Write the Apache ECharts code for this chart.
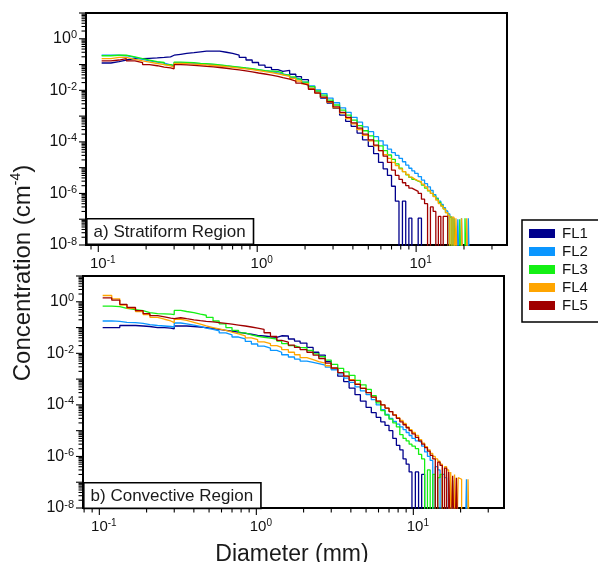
<!DOCTYPE html>
<html><head><meta charset="utf-8">
<script src="https://cdn.jsdelivr.net/npm/echarts@6/dist/echarts.min.js"></script>
<style>html,body{margin:0;padding:0;background:#fff}#chart{width:598px;height:562px}</style>
</head><body><div id="chart"></div>
<script>
// Bin diameters (mm), shared by both panels
const diameters = [0.105, 0.12, 0.135, 0.15, 0.17, 0.19, 0.21, 0.235, 0.26, 0.285,
 0.30, 0.33, 0.36, 0.40, 0.44, 0.48, 0.53, 0.58, 0.64, 0.70,
 0.77, 0.85, 0.93, 1.02, 1.12, 1.23, 1.35, 1.45, 1.6, 1.75,
 1.9, 2.1, 2.3, 2.5, 2.75, 3.0, 3.3, 3.6, 3.9, 4.25,
 4.6, 5.0, 5.4, 5.8, 6.2, 6.6, 7.0, 7.4, 7.8, 8.2,
 8.6, 9.0, 9.4, 9.8, 10.3, 10.8, 11.3, 11.8, 12.3, 12.8,
 13.3, 13.8, 14.3, 14.8, 15.3, 15.8, 16.3, 16.8, 17.3, 17.8,
 18.3, 18.8, 19.3, 19.8, 20.3, 20.8, 21.3, 21.8, 22.3, 22.8];

// a) Stratiform region concentrations (cm^-4); 1e-10 = empty bin
const stratFL1 = [0.115, 0.13, 0.15, 0.17, 0.17, 0.175, 0.18, 0.19, 0.2, 0.23,
 0.25, 0.27, 0.29, 0.31, 0.33, 0.33, 0.33, 0.3, 0.27, 0.23,
 0.19, 0.15, 0.12, 0.095, 0.078, 0.064, 0.054, 0.06, 0.042, 0.034,
 0.026, 0.014, 0.0085, 0.005, 0.0032, 0.002, 0.0011, 6.3e-4, 4e-4, 2.2e-4,
 1.2e-4, 6.7e-5, 3.5e-5, 1.6e-5, 9e-6, 5e-6, 1.9e-6, 5e-7, 1e-10, 5e-7,
 1e-10, 1.1e-7, 1e-10, 1e-10, 1.1e-7, 1e-10];
const stratFL2 = [0.23, 0.23, 0.22, 0.19, 0.16, 0.14, 0.125, 0.113, 0.097, 0.088,
 0.118, 0.115, 0.112, 0.108, 0.104, 0.1, 0.094, 0.088, 0.083, 0.078,
 0.072, 0.067, 0.062, 0.057, 0.052, 0.048, 0.043, 0.038, 0.031, 0.026,
 0.021, 0.015, 0.0105, 0.0075, 0.005, 0.0033, 0.0021, 0.0014, 9e-4, 5.8e-4,
 3.8e-4, 2.5e-4, 1.6e-4, 1.1e-4, 7.5e-5, 5.2e-5, 3.8e-5, 3e-5, 2.3e-5, 1.7e-5,
 1.25e-5, 9.5e-6, 7.5e-6, 6e-6, 4.5e-6, 3.3e-6, 2.4e-6, 1.8e-6, 1.3e-6, 9e-7,
 6.5e-7, 5e-7, 3.8e-7, 2.8e-7, 2.1e-7, 1.6e-7, 1.2e-7, 1e-10, 1.1e-7, 1e-10,
 1e-7, 1e-10, 1.1e-7, 1e-10, 1e-10, 1e-10, 1.1e-7, 1e-10];
const stratFL3 = [0.22, 0.23, 0.23, 0.2, 0.17, 0.15, 0.13, 0.12, 0.1, 0.092,
 0.125, 0.122, 0.118, 0.112, 0.108, 0.103, 0.097, 0.09, 0.085, 0.08,
 0.074, 0.069, 0.063, 0.058, 0.056, 0.054, 0.048, 0.04, 0.033, 0.027,
 0.021, 0.014, 0.0095, 0.0065, 0.0042, 0.0027, 0.0017, 0.0011, 7e-4, 4.3e-4,
 2.7e-4, 1.7e-4, 1.1e-4, 7e-5, 4.6e-5, 3.1e-5, 2.1e-5, 1.4e-5, 9.5e-6, 7e-6,
 5.3e-6, 4.2e-6, 3.5e-6, 3e-6, 2.7e-6, 2.1e-6, 1.6e-6, 1.25e-6, 1e-6, 7.8e-7,
 6e-7, 4.5e-7, 3.3e-7, 2.5e-7, 1.8e-7, 1e-10, 1.2e-7, 1e-10, 1.1e-7, 1e-10,
 1e-10, 1e-7, 1e-10, 1e-10, 1.1e-7, 1e-10];
const stratFL4 = [0.17, 0.19, 0.19, 0.16, 0.14, 0.125, 0.11, 0.1, 0.088, 0.08,
 0.11, 0.108, 0.104, 0.1, 0.096, 0.092, 0.088, 0.083, 0.078, 0.073,
 0.068, 0.063, 0.058, 0.053, 0.049, 0.044, 0.04, 0.035, 0.029, 0.023,
 0.018, 0.012, 0.008, 0.0053, 0.0034, 0.0021, 0.0013, 8e-4, 5e-4, 3e-4,
 1.8e-4, 1.1e-4, 7e-5, 4.6e-5, 3.2e-5, 2.3e-5, 1.6e-5, 1.2e-5, 9e-6, 7e-6,
 5.5e-6, 4.3e-6, 3.6e-6, 3.1e-6, 2.9e-6, 2.3e-6, 1.8e-6, 1.3e-6, 1e-6, 7.5e-7,
 5.5e-7, 4e-7, 3.2e-7, 2.5e-7, 1.8e-7, 1.4e-7, 1e-10, 1.2e-7, 1e-10, 1.1e-7,
 1e-10, 1e-10, 1.1e-7, 1e-10, 1e-10, 1.1e-7, 1e-10];
const stratFL5 = [0.14, 0.15, 0.17, 0.14, 0.12, 0.1, 0.09, 0.08, 0.074, 0.068,
 0.1, 0.097, 0.093, 0.089, 0.085, 0.081, 0.077, 0.072, 0.067, 0.062,
 0.057, 0.052, 0.047, 0.043, 0.039, 0.035, 0.031, 0.027, 0.023, 0.019,
 0.016, 0.011, 0.0078, 0.0055, 0.0036, 0.0023, 0.0014, 9e-4, 5.5e-4, 3.4e-4,
 2e-4, 1.2e-4, 7.5e-5, 4.6e-5, 2.8e-5, 1.6e-5, 8e-6, 5e-6, 3.5e-6, 2.6e-6,
 2e-6, 1.6e-6, 1.4e-6, 1.2e-6, 1e-6, 6e-7, 4e-7, 1e-10, 3e-7, 2e-7,
 1e-10, 1.3e-7, 1e-10, 1.3e-7, 1.3e-7, 1e-10];

// b) Convective region concentrations (cm^-4)
const convFL1 = [0.1, 0.1, 0.12, 0.12, 0.115, 0.11, 0.1, 0.1, 0.095, 0.09,
 0.115, 0.115, 0.11, 0.105, 0.1, 0.092, 0.085, 0.078, 0.072, 0.066,
 0.06, 0.055, 0.05, 0.047, 0.044, 0.042, 0.048, 0.047, 0.036, 0.03,
 0.025, 0.017, 0.011, 0.0085, 0.0048, 0.0025, 0.0013, 8e-4, 4.5e-4, 2.5e-4,
 1.4e-4, 8e-5, 5e-5, 3.3e-5, 2.2e-5, 1.6e-5, 1e-5, 5e-6, 2.7e-6, 1.8e-6,
 8e-7, 5e-7, 2.5e-7, 1e-10, 2.5e-7, 1e-10, 2e-7, 1e-10];
const convFL2 = [0.18, 0.175, 0.16, 0.155, 0.145, 0.13, 0.12, 0.115, 0.11, 0.105,
 0.15, 0.14, 0.125, 0.11, 0.095, 0.085, 0.075, 0.062, 0.052, 0.043,
 0.036, 0.029, 0.023, 0.019, 0.016, 0.013, 0.011, 0.0088, 0.0072, 0.006,
 0.005, 0.0045, 0.004, 0.0035, 0.0029, 0.0023, 0.0016, 0.0011, 7.5e-4, 5e-4,
 3.5e-4, 2.5e-4, 1.6e-4, 1e-4, 6.5e-5, 4.3e-5, 3e-5, 2.3e-5, 1.8e-5, 1.4e-5,
 1.1e-5, 8.5e-6, 6.5e-6, 5e-6, 4e-6, 3.5e-6, 2.5e-6, 1.5e-6, 1e-6, 7e-7,
 1e-10, 4e-7, 3e-7, 1e-10, 2e-7, 1.5e-7, 1e-10, 1.2e-7, 1e-10, 1.2e-7,
 1e-10, 1e-10, 1e-10, 1e-10, 1e-10, 1e-10, 1e-10, 1.3e-7, 1e-10];
const convFL3 = [0.68, 0.65, 0.55, 0.5, 0.45, 0.38, 0.35, 0.34, 0.33, 0.32,
 0.46, 0.42, 0.38, 0.33, 0.3, 0.25, 0.18, 0.14, 0.1, 0.078,
 0.062, 0.052, 0.046, 0.042, 0.039, 0.036, 0.03, 0.024, 0.02, 0.017,
 0.0165, 0.013, 0.0095, 0.0075, 0.0055, 0.0037, 0.0026, 0.0019, 0.0014, 9e-4,
 6e-4, 4e-4, 2.3e-4, 1.2e-4, 6e-5, 4e-5, 2.8e-5, 2e-5, 1.4e-5, 7e-6,
 5e-6, 4e-6, 3e-6, 2.5e-6, 2e-6, 1.2e-6, 8e-7, 1e-10, 3e-7, 1e-10,
 2e-7, 1e-10, 1.5e-7, 2e-7, 1e-10];
const convFL4 = [1.75, 1.3, 0.75, 0.55, 0.42, 0.32, 0.25, 0.21, 0.18, 0.155,
 0.21, 0.19, 0.16, 0.135, 0.115, 0.1, 0.088, 0.077, 0.066, 0.057,
 0.048, 0.04, 0.034, 0.028, 0.024, 0.02, 0.017, 0.014, 0.011, 0.0088,
 0.0068, 0.0057, 0.0048, 0.0042, 0.0033, 0.0026, 0.0018, 0.0013, 9.5e-4, 6.5e-4,
 4.5e-4, 3e-4, 2e-4, 1.4e-4, 1e-4, 7.5e-5, 5.5e-5, 4.2e-5, 3.2e-5, 2.5e-5,
 1.9e-5, 1.4e-5, 1.1e-5, 8.5e-6, 6.5e-6, 4.5e-6, 3.3e-6, 2.4e-6, 1.8e-6, 1.3e-6,
 1e-6, 8e-7, 6.5e-7, 5e-7, 1e-10, 4e-7, 3e-7, 1e-10, 2.5e-7, 1e-10,
 2e-7, 1e-10, 1.5e-7, 1.3e-7, 1e-10, 1e-10, 1e-10, 1e-10, 1.3e-7, 1e-10];
const convFL5 = [1.42, 1.15, 0.8, 0.6, 0.45, 0.35, 0.29, 0.26, 0.23, 0.22,
 0.24, 0.22, 0.2, 0.185, 0.175, 0.165, 0.155, 0.145, 0.135, 0.125,
 0.115, 0.105, 0.095, 0.085, 0.063, 0.045, 0.032, 0.027, 0.021, 0.017,
 0.014, 0.011, 0.0085, 0.0063, 0.0042, 0.0027, 0.0018, 0.0013, 9e-4, 6.3e-4,
 4.4e-4, 3e-4, 2e-4, 1.4e-4, 1e-4, 7.5e-5, 5.5e-5, 4e-5, 3e-5, 2.2e-5,
 1.7e-5, 1.3e-5, 1e-5, 7.5e-6, 5.5e-6, 4e-6, 3e-6, 2.2e-6, 1.6e-6, 1.1e-6,
 8e-7, 1e-10, 6e-7, 4.5e-7, 1e-10, 3.5e-7, 1e-10, 2.5e-7, 1e-10, 1.8e-7,
 1e-10, 1.5e-7, 1e-10];

const seriesNames = ['FL1', 'FL2', 'FL3', 'FL4', 'FL5'];
const seriesColors = ['#00008c', '#0a96ff', '#14f014', '#ffa500', '#a00000'];
const panelLabels = ['a) Stratiform Region', 'b) Convective Region'];
const xLabelExponents = [-1, 0, 1];
const yLabelExponents = [-8, -6, -4, -2, 0];
const xMajorTicks = [0.1, 1, 10];
const xMinorTicks = [0.08, 0.09, 0.2, 0.3, 0.4, 0.5, 0.6, 0.7, 0.8, 0.9, 2, 3, 4, 5, 6, 7, 8, 9, 20, 30];
const yMajorTicks = [1e-8, 1e-7, 1e-6, 1e-5, 1e-4, 1e-3, 1e-2, 1e-1, 1, 10];
const yMinorMultipliers = [2, 3, 4, 5, 6, 7, 8, 9];

const panels = [
  { data: [stratFL1, stratFL2, stratFL3, stratFL4, stratFL5], xMin: 0.0837, xMax: 37.3, grid: { left: 86, top: 13, width: 421, height: 232 }, label: { left: 86, top: 218 } },
  { data: [convFL1, convFL2, convFL3, convFL4, convFL5], xMin: 0.0787, xMax: 37.8, grid: { left: 83, top: 276, width: 421, height: 232 }, label: { left: 83, top: 482 } }
];
const yMin = 1e-8, yMax = 10;
const FONT = '"Liberation Sans", Arial, Helvetica, sans-serif';

const yMinorTicks = [];
for (let i = 0; i < yMajorTicks.length - 1; i++) {
  yMinorMultipliers.forEach(m => yMinorTicks.push(m * yMajorTicks[i]));
}

function isExp(v, list) {
  const l = Math.log10(v), r = Math.round(l);
  return Math.abs(l - r) < 1e-6 && list.indexOf(r) >= 0 ? r : null;
}
const xLabelRich = {
  b: { fontSize: 15, fontFamily: FONT, color: '#111', lineHeight: 17 },
  s: { fontSize: 10, fontFamily: FONT, color: '#111', lineHeight: 17, verticalAlign: 'top' }
};
const yLabelRich = {
  b: { fontSize: 16, fontFamily: FONT, color: '#111', lineHeight: 18 },
  s: { fontSize: 11, fontFamily: FONT, color: '#111', lineHeight: 18, verticalAlign: 'top' }
};

const grids = [], xAxes = [], yAxes = [], series = [], graphics = [];
panels.forEach((p, gi) => {
  grids.push(Object.assign({ show: true, borderColor: '#000', borderWidth: 2, backgroundColor: 'transparent', containLabel: false }, p.grid));
  xAxes.push({
    type: 'log', logBase: 10, gridIndex: gi, min: p.xMin, max: p.xMax,
    axisLine: { show: false }, axisTick: { show: false }, splitLine: { show: false },
    axisLabel: {
      margin: 10, padding: [0, 0, 0, 9],
      formatter: v => { const e = isExp(v, xLabelExponents); return e === null ? '' : '{b|10}{s|' + e + '}'; },
      rich: xLabelRich
    }
  });
  yAxes.push({
    type: 'log', logBase: 10, gridIndex: gi, min: yMin, max: yMax, splitNumber: 9,
    axisLine: { show: false }, axisTick: { show: false }, splitLine: { show: false },
    axisLabel: {
      margin: 9,
      formatter: v => { const e = isExp(v, yLabelExponents); return e === null ? '' : '{b|10}{s|' + e + '}'; },
      rich: yLabelRich
    }
  });
  p.data.forEach((vals, si) => {
    series.push({
      name: seriesNames[si], type: 'line', xAxisIndex: gi, yAxisIndex: gi,
      step: 'end', showSymbol: false, symbol: 'none', clip: true, z: 2 + si,
      lineStyle: { color: seriesColors[si], width: 1.3 },
      itemStyle: { color: seriesColors[si] },
      data: vals.map((v, i) => [diameters[i], v])
    });
  });
  // axis ticks (outside), positioned through the axes' own scales
  const tickData = [];
  xMajorTicks.forEach(t => { if (t >= p.xMin && t <= p.xMax) tickData.push([t, yMin, 6, 0]); });
  xMinorTicks.forEach(t => { if (t >= p.xMin && t <= p.xMax) tickData.push([t, yMin, 3.5, 0]); });
  yMajorTicks.forEach(t => tickData.push([p.xMin, t, 6, 1]));
  yMinorTicks.forEach(t => tickData.push([p.xMin, t, 3.5, 1]));
  series.push({
    name: 'ticks' + gi, type: 'custom', xAxisIndex: gi, yAxisIndex: gi, silent: true, clip: false, z: 10,
    data: tickData,
    renderItem: (params, api) => {
      const pt = api.coord([api.value(0), api.value(1)]);
      const len = api.value(2), isY = api.value(3);
      const shape = isY ? { x1: pt[0] - 1, y1: pt[1], x2: pt[0] - 1 - len, y2: pt[1] }
                        : { x1: pt[0], y1: pt[1] + 1, x2: pt[0], y2: pt[1] + 1 + len };
      return { type: 'line', shape: shape, style: { stroke: '#000', lineWidth: 1.1 } };
    }
  });
  graphics.push({
    type: 'text', left: p.label.left, top: p.label.top, z: 100,
    style: {
      text: panelLabels[gi], font: '17px ' + FONT, fill: '#1a1a1a',
      backgroundColor: '#fff', borderColor: '#000', borderWidth: 1.6, padding: [4, 7, 3, 6]
    }
  });
});

graphics.push({
  type: 'text', x: 23, y: 273, rotation: Math.PI / 2, z: 100,
  style: {
    text: '{a|Concentration (cm}{s|-4}{a|)}', align: 'center', verticalAlign: 'middle',
    rich: {
      a: { fontSize: 24, fontFamily: FONT, fill: '#1a1a1a', lineHeight: 27 },
      s: { fontSize: 14, fontFamily: FONT, fill: '#1a1a1a', lineHeight: 27, verticalAlign: 'top' }
    }
  }
});
graphics.push({
  type: 'text', x: 292, y: 555, z: 100,
  style: { text: 'Diameter (mm)', align: 'center', verticalAlign: 'middle', font: '23px ' + FONT, fill: '#1a1a1a' }
});

const chart = echarts.init(document.getElementById('chart'), null, { renderer: 'canvas' });
chart.setOption({
  animation: false,
  backgroundColor: '#fff',
  grid: grids, xAxis: xAxes, yAxis: yAxes, series: series, graphic: graphics,
  legend: {
    data: seriesNames, orient: 'vertical', left: 522, top: 220, icon: 'rect',
    itemWidth: 26, itemHeight: 9, itemGap: 3,
    textStyle: { fontSize: 15, fontFamily: FONT, color: '#111', lineHeight: 14.5, padding: [0, 0, 0, 2] },
    borderColor: '#000', borderWidth: 1.5, padding: [6, 12, 9, 7], backgroundColor: '#fff'
  }
});
</script></body></html>
